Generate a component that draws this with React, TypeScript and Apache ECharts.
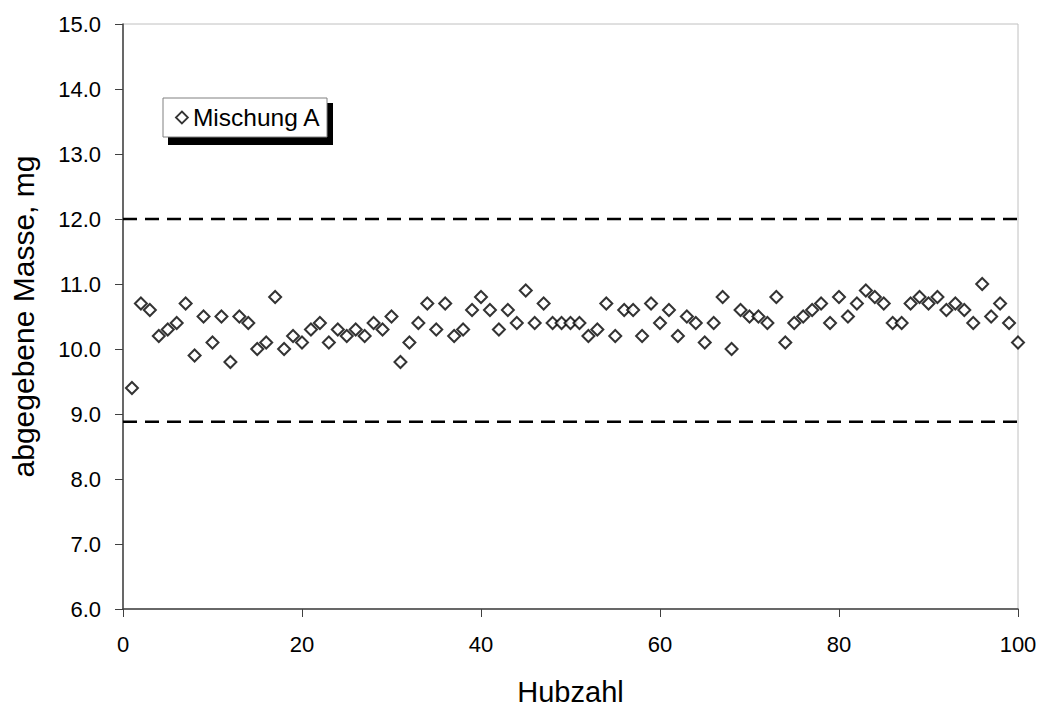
import React, { useEffect, useRef } from "react";
import * as echarts from "echarts";

const hubzahl: number[] = Array.from({ length: 100 }, (_, i) => i + 1);
const masse: number[] = [
  9.4, 10.7, 10.6, 10.2, 10.3, 10.4, 10.7, 9.9, 10.5, 10.1,
  10.5, 9.8, 10.5, 10.4, 10.0, 10.1, 10.8, 10.0, 10.2, 10.1,
  10.3, 10.4, 10.1, 10.3, 10.2, 10.3, 10.2, 10.4, 10.3, 10.5,
  9.8, 10.1, 10.4, 10.7, 10.3, 10.7, 10.2, 10.3, 10.6, 10.8,
  10.6, 10.3, 10.6, 10.4, 10.9, 10.4, 10.7, 10.4, 10.4, 10.4,
  10.4, 10.2, 10.3, 10.7, 10.2, 10.6, 10.6, 10.2, 10.7, 10.4,
  10.6, 10.2, 10.5, 10.4, 10.1, 10.4, 10.8, 10.0, 10.6, 10.5,
  10.5, 10.4, 10.8, 10.1, 10.4, 10.5, 10.6, 10.7, 10.4, 10.8,
  10.5, 10.7, 10.9, 10.8, 10.7, 10.4, 10.4, 10.7, 10.8, 10.7,
  10.8, 10.6, 10.7, 10.6, 10.4, 11.0, 10.5, 10.7, 10.4, 10.1,
];
const upperLimit: number[][] = [[0, 12.0], [100, 12.0]];
const lowerLimit: number[][] = [[0, 8.88], [100, 8.88]];
const seriesName = "Mischung A";
const xTitle = "Hubzahl";
const yTitle = "abgegebene Masse, mg";

const FONT = "'Liberation Sans', Arial, sans-serif";

export default function App() {
  const ref = useRef<HTMLDivElement>(null);
  useEffect(() => {
    if (!ref.current) return;
    const chart = echarts.init(ref.current, null, { renderer: "svg" });
    chart.setOption({
      animation: false,
      backgroundColor: "#ffffff",
      textStyle: { fontFamily: FONT },
      grid: {
        left: 123,
        right: 22,
        top: 24,
        bottom: 99,
        show: true,
        borderColor: "#c0c0c0",
        borderWidth: 1,
        backgroundColor: "transparent",
      },
      legend: {
        data: [seriesName],
        left: 175,
        top: 105,
        padding: 0,
        z: 10,
        itemWidth: 12,
        itemHeight: 12,
        icon: "diamond",
        itemStyle: { color: "#fff", borderColor: "#000", borderWidth: 1.8 },
        textStyle: { fontSize: 24.5, color: "#000", fontFamily: FONT },
      },
      graphic: [
        { type: "rect", z: 1, shape: { x: 168, y: 103, width: 165, height: 42 }, style: { fill: "#000" } },
        { type: "rect", z: 2, shape: { x: 163, y: 98, width: 164, height: 39 }, style: { fill: "#fff", stroke: "#808080", lineWidth: 1 } },
      ],
      xAxis: {
        type: "value",
        min: 0,
        max: 100,
        interval: 20,
        name: xTitle,
        nameLocation: "middle",
        nameGap: 68,
        nameTextStyle: { fontSize: 29, color: "#000", fontFamily: FONT },
        axisLine: { show: true, lineStyle: { color: "#404040", width: 1.5 } },
        axisTick: { show: true, length: 8, lineStyle: { color: "#404040" } },
        axisLabel: { fontSize: 22, color: "#000", margin: 24, fontFamily: FONT },
        splitLine: { show: false },
      },
      yAxis: {
        type: "value",
        min: 6,
        max: 15,
        interval: 1,
        name: yTitle,
        nameLocation: "middle",
        nameGap: 85,
        nameTextStyle: { fontSize: 30, color: "#000", fontFamily: FONT },
        axisLine: { show: true, lineStyle: { color: "#404040", width: 1.5 } },
        axisTick: { show: true, length: 8, lineStyle: { color: "#404040" } },
        axisLabel: {
          fontSize: 22,
          color: "#000",
          margin: 22,
          fontFamily: FONT,
          formatter: (v: number) => v.toFixed(1),
        },
        splitLine: { show: false },
      },
      series: [
        {
          name: "upper",
          type: "line",
          data: upperLimit,
          symbol: "none",
          silent: true,
          lineStyle: { color: "#000", width: 2.5, type: [14, 8] },
        },
        {
          name: "lower",
          type: "line",
          data: lowerLimit,
          symbol: "none",
          silent: true,
          lineStyle: { color: "#000", width: 2.5, type: [14, 8] },
        },
        {
          name: seriesName,
          type: "scatter",
          data: hubzahl.map((x, i) => [x, masse[i]]),
          symbol: "diamond",
          symbolSize: 12,
          itemStyle: { color: "#fff", borderColor: "#000", borderWidth: 2 },
          z: 5,
        },
      ],
    });
    return () => chart.dispose();
  }, []);
  return (
    <div
      ref={ref}
      style={{ position: "fixed", left: 0, top: 0, width: 1040, height: 711 }}
    />
  );
}
